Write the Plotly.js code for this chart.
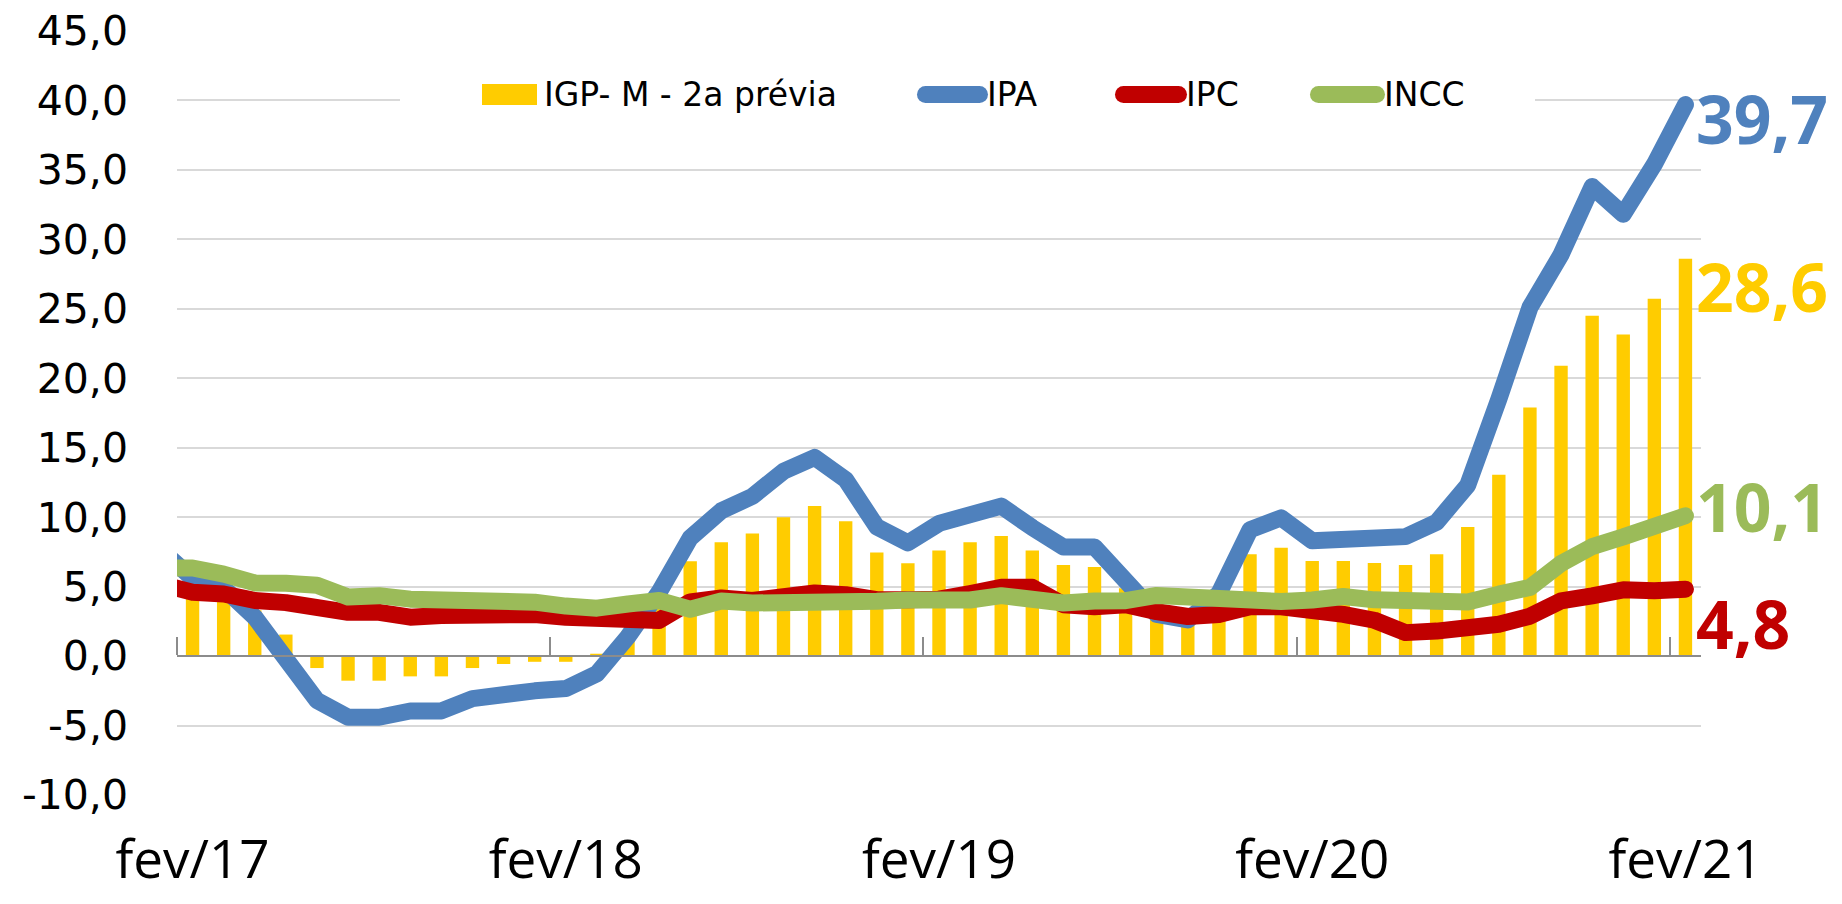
<!DOCTYPE html>
<html>
<head>
<meta charset="utf-8">
<script src="https://cdn.plot.ly/plotly-3.0.1.min.js"></script>
<style>
  html, body { margin: 0; padding: 0; background: #ffffff; }
  #chart { width: 1842px; height: 904px; }
  .js-line { stroke-linejoin: round !important; stroke-linecap: round !important; }
  .shapelayer path { stroke-linecap: round; }
</style>
</head>
<body>
<div id="chart"></div>
<script>
// ---------- DATA ----------
const months = ['jan/17','fev/17','mar/17','abr/17','mai/17','jun/17','jul/17','ago/17','set/17','out/17','nov/17','dez/17',
                'jan/18','fev/18','mar/18','abr/18','mai/18','jun/18','jul/18','ago/18','set/18','out/18','nov/18','dez/18',
                'jan/19','fev/19','mar/19','abr/19','mai/19','jun/19','jul/19','ago/19','set/19','out/19','nov/19','dez/19',
                'jan/20','fev/20','mar/20','abr/20','mai/20','jun/20','jul/20','ago/20','set/20','out/20','nov/20','dez/20',
                'jan/21','fev/21'];

const igpm = [null, 5.2, 4.7, 3.3, 1.55, -0.86, -1.77, -1.77, -1.46, -1.46, -0.86, -0.57, -0.41, -0.41, 0.17, 1.8, 3.8,
              6.83, 8.2, 8.82, 10.0, 10.8, 9.7, 7.45, 6.68, 7.6, 8.2, 8.65, 7.6, 6.55, 6.42, 4.88, 3.4, 3.1, 4.0,
              7.33, 7.8, 6.85, 6.84, 6.7, 6.55, 7.33, 9.3, 13.05, 17.9, 20.9, 24.5, 23.16, 25.72, 28.6];

const ipa = [7.6, 5.6, 4.9, 2.8, -0.2, -3.2, -4.4, -4.4, -3.95, -3.95, -3.06, -2.63, -2.5, -2.34, -1.27, 1.4, 4.6,
             8.5, 10.46, 11.5, 13.3, 14.3, 12.7, 9.3, 8.15, 9.55, 10.3, 10.8, 9.25, 7.85, 7.85, 5.3, 3.0, 2.6, 4.5,
             9.1, 9.95, 8.3, 8.43, 8.48, 8.6, 9.64, 12.3, 18.5, 25.1, 28.9, 33.8, 31.8, 35.4, 39.7];

const ipc = [5.15, 4.6, 4.47, 4.0, 3.85, 3.5, 3.15, 3.15, 2.8, 2.92, 2.96, 3.1, 3.0, 2.8, 2.73, 2.8, 2.57,
             3.9, 4.18, 4.0, 4.35, 4.54, 4.42, 4.06, 4.06, 4.1, 4.5, 4.95, 4.95, 3.7, 3.55, 3.7, 3.2, 2.85, 3.0,
             3.55, 3.55, 3.4, 3.0, 2.58, 1.69, 1.8, 2.05, 2.29, 2.87, 3.98, 4.34, 4.77, 4.7, 4.82];

const incc = [6.35, 6.34, 5.9, 5.27, 5.25, 5.1, 4.25, 4.35, 4.1, 4.1, 4.15, 4.0, 3.88, 3.6, 3.45, 3.75, 4.0,
              3.37, 3.97, 3.82, 3.8, 3.94, 3.94, 3.94, 4.04, 4.04, 4.04, 4.35, 4.1, 3.82, 3.96, 3.99, 4.37, 4.23, 4.13,
              4.06, 3.93, 4.04, 4.29, 4.05, 4.05, 4.0, 3.9, 4.46, 4.94, 6.67, 7.88, 8.58, 9.4, 10.1];

const seriesNames = ['IGP- M - 2a prévia', 'IPA', 'IPC', 'INCC'];
const xTickLabels = ['fev/17', 'fev/18', 'fev/19', 'fev/20', 'fev/21'];
const yTickVals = [-10, -5, 0, 5, 10, 15, 20, 25, 30, 35, 40, 45];
const yTickText = ['-10,0', '-5,0', '0,0', '5,0', '10,0', '15,0', '20,0', '25,0', '30,0', '35,0', '40,0', '45,0'];

// ---------- STYLE ----------
const COLORS = { igp: '#FFCC00', ipa: '#4F81BD', ipc: '#C00000', incc: '#9BBB59' };
const W = 1842, H = 904;
const M = { l: 177, r: 141, t: 31, b: 109 };
const pw = W - M.l - M.r, ph = H - M.t - M.b;
const px = v => (v - M.l) / pw;         // page px -> paper x
const py = v => 1 - (v - M.t) / ph;     // page px -> paper y
const yMin = -10, yMax = 45;
const LW = 17;

const xIdx = months.map((m, i) => i);
const xTickVals = xTickLabels.map(l => months.indexOf(l));
const xBoundaries = xTickVals.map(v => v - 0.5);
const fmt = v => v.toFixed(1).replace('.', ',');

const traces = [
  { type: 'bar', name: seriesNames[0], x: xIdx, y: igpm, marker: { color: COLORS.igp, line: { width: 0 } },
    hoverinfo: 'skip', showlegend: false },
  { type: 'scatter', mode: 'lines', name: seriesNames[1], x: xIdx, y: ipa,
    line: { color: COLORS.ipa, width: LW }, hoverinfo: 'skip', showlegend: false },
  { type: 'scatter', mode: 'lines', name: seriesNames[2], x: xIdx, y: ipc,
    line: { color: COLORS.ipc, width: LW }, hoverinfo: 'skip', showlegend: false },
  { type: 'scatter', mode: 'lines', name: seriesNames[3], x: xIdx, y: incc,
    line: { color: COLORS.incc, width: LW }, hoverinfo: 'skip', showlegend: false }
];

// custom legend
const legendY = 94.5;
const shapes = [
  { type: 'rect', xref: 'paper', yref: 'paper', x0: px(400), x1: px(1535), y0: py(132), y1: py(58),
    fillcolor: '#ffffff', line: { width: 0 }, layer: 'above' },
  { type: 'rect', xref: 'paper', yref: 'paper', x0: px(482), x1: px(537), y0: py(105), y1: py(84),
    fillcolor: COLORS.igp, line: { width: 0 }, layer: 'above' },
  { type: 'line', xref: 'paper', yref: 'paper', x0: px(925.5), x1: px(979.5), y0: py(legendY), y1: py(legendY),
    line: { color: COLORS.ipa, width: LW }, layer: 'above' },
  { type: 'line', xref: 'paper', yref: 'paper', x0: px(1123.5), x1: px(1178.5), y0: py(legendY), y1: py(legendY),
    line: { color: COLORS.ipc, width: LW }, layer: 'above' },
  { type: 'line', xref: 'paper', yref: 'paper', x0: px(1318.5), x1: px(1376.5), y0: py(legendY), y1: py(legendY),
    line: { color: COLORS.incc, width: LW }, layer: 'above' }
];

const legendFont = { family: 'DejaVu Sans', size: 33, color: '#000000' };
const legendTextX = [545, 988, 1187, 1385];
const annotations = seriesNames.map((n, i) => ({
  xref: 'paper', yref: 'paper', x: px(legendTextX[i]), y: py(legendY), xanchor: 'left', yanchor: 'middle',
  text: n, showarrow: false, font: legendFont, borderpad: 0, xshift: -2
}));

// end-of-series value labels
const last = xIdx[xIdx.length - 1];
const endLabels = [
  { v: ipa[ipa.length - 1], c: COLORS.ipa, dy: -13 },
  { v: igpm[igpm.length - 1], c: COLORS.igp, dy: -27 },
  { v: incc[incc.length - 1], c: COLORS.incc, dy: 10 },
  { v: ipc[ipc.length - 1], c: COLORS.ipc, dy: -34 }
];
endLabels.forEach(e => annotations.push({
  xref: 'x', yref: 'y', x: last, y: e.v, xanchor: 'left', yanchor: 'middle',
  text: fmt(e.v), showarrow: false, xshift: 10, yshift: e.dy, borderpad: 0,
  font: { family: 'Open Sans', size: 66, weight: 700, color: e.c }
}));

const layout = {
  width: W, height: H,
  margin: M,
  paper_bgcolor: '#ffffff', plot_bgcolor: '#ffffff',
  showlegend: false,
  bargap: 0.57,
  xaxis: {
    type: 'linear', range: [0.5, 49.5],
    anchor: 'free', position: (0 - yMin) / (yMax - yMin),
    showgrid: false, zeroline: false,
    showline: true, linecolor: '#8c8c8c', linewidth: 2,
    tickmode: 'array', tickvals: xTickVals, ticktext: xTickLabels, ticks: '',
    ticklabelstandoff: 157,
    tickfont: { family: 'Open Sans', size: 53, color: '#000000' },
    minor: { tickmode: 'array', tickvals: xBoundaries, ticks: 'inside', ticklen: 18, tickwidth: 2,
             tickcolor: '#8c8c8c', showgrid: false }
  },
  yaxis: {
    range: [yMin, yMax],
    tickmode: 'array', tickvals: yTickVals, ticktext: yTickText,
    showgrid: true, gridcolor: '#d9d9d9', gridwidth: 2,
    zeroline: false, showline: false, ticks: '',
    ticklabelstandoff: 48,
    tickfont: { family: 'DejaVu Sans', size: 41, color: '#000000' }
  },
  shapes: shapes,
  annotations: annotations
};

Plotly.newPlot('chart', traces, layout, { displayModeBar: false, staticPlot: true });
</script>
</body>
</html>
